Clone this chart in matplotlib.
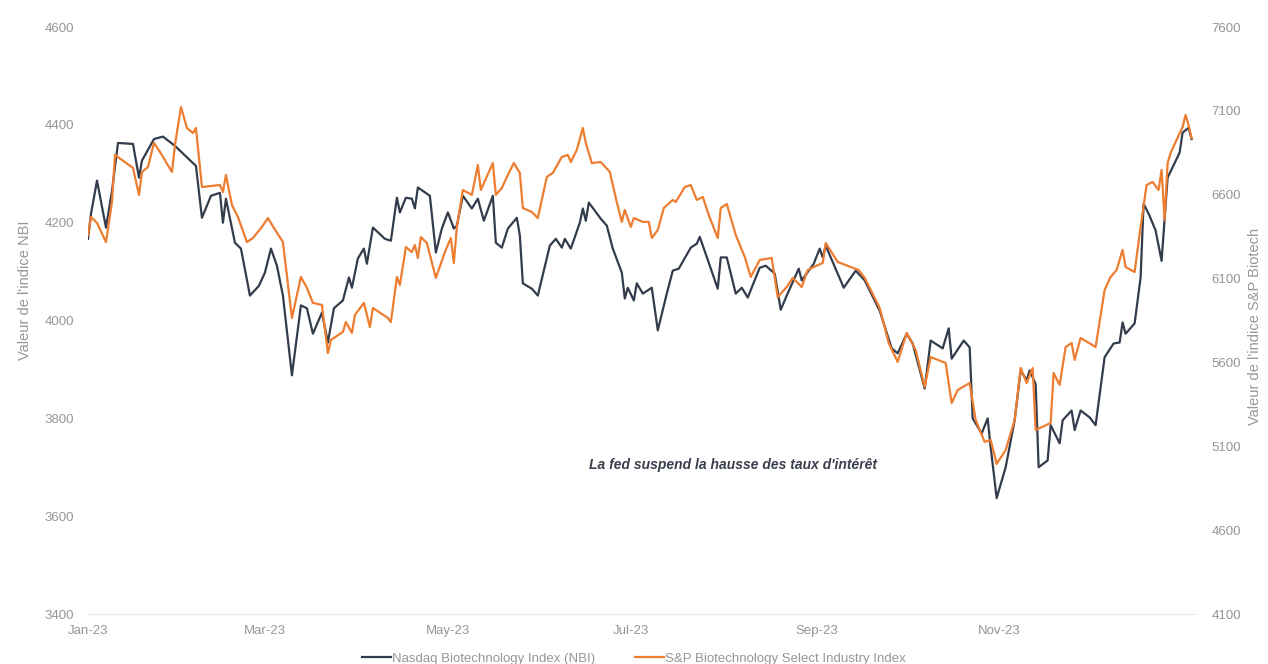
import matplotlib
matplotlib.use("Agg")
import matplotlib.pyplot as plt
import matplotlib.dates as mdates
import pandas as pd

plt.rcParams['font.family'] = ['Liberation Sans', 'DejaVu Sans']

# Nasdaq Biotechnology Index (axe gauche)
nbi_dates = ["2023-01-03", "2023-01-04", "2023-01-06", "2023-01-09", "2023-01-11", "2023-01-13",
             "2023-01-18", "2023-01-20", "2023-01-21", "2023-01-25", "2023-01-28", "2023-02-01",
             "2023-02-08", "2023-02-10", "2023-02-13", "2023-02-16", "2023-02-17", "2023-02-18",
             "2023-02-21", "2023-02-23", "2023-02-26", "2023-03-01", "2023-03-03", "2023-03-05",
             "2023-03-07", "2023-03-09", "2023-03-12", "2023-03-15", "2023-03-17", "2023-03-19",
             "2023-03-22", "2023-03-24", "2023-03-26", "2023-03-29", "2023-03-31", "2023-04-01",
             "2023-04-03", "2023-04-05", "2023-04-06", "2023-04-08", "2023-04-12", "2023-04-14",
             "2023-04-16", "2023-04-17", "2023-04-19", "2023-04-21", "2023-04-22", "2023-04-23",
             "2023-04-27", "2023-04-29", "2023-05-01", "2023-05-03", "2023-05-05", "2023-05-06",
             "2023-05-08", "2023-05-11", "2023-05-13", "2023-05-15", "2023-05-18", "2023-05-19",
             "2023-05-21", "2023-05-23", "2023-05-26", "2023-05-27", "2023-05-28", "2023-05-31",
             "2023-06-02", "2023-06-06", "2023-06-08", "2023-06-10", "2023-06-11", "2023-06-13",
             "2023-06-16", "2023-06-17", "2023-06-18", "2023-06-19", "2023-06-23", "2023-06-25",
             "2023-06-27", "2023-06-30", "2023-07-01", "2023-07-02", "2023-07-04", "2023-07-05",
             "2023-07-07", "2023-07-10", "2023-07-12", "2023-07-15", "2023-07-17", "2023-07-19",
             "2023-07-23", "2023-07-25", "2023-07-26", "2023-07-29", "2023-08-01", "2023-08-02",
             "2023-08-04", "2023-08-07", "2023-08-09", "2023-08-11", "2023-08-15", "2023-08-17",
             "2023-08-20", "2023-08-22", "2023-08-24", "2023-08-28", "2023-08-29", "2023-09-02",
             "2023-09-04", "2023-09-05", "2023-09-06", "2023-09-12", "2023-09-16", "2023-09-19",
             "2023-09-24", "2023-09-28", "2023-09-30", "2023-10-03", "2023-10-05", "2023-10-09",
             "2023-10-11", "2023-10-15", "2023-10-17", "2023-10-18", "2023-10-22", "2023-10-24",
             "2023-10-25", "2023-10-28", "2023-10-30", "2023-10-31", "2023-11-02", "2023-11-05",
             "2023-11-08", "2023-11-10", "2023-11-12", "2023-11-13", "2023-11-15", "2023-11-16",
             "2023-11-19", "2023-11-20", "2023-11-23", "2023-11-24", "2023-11-27", "2023-11-28",
             "2023-11-30", "2023-12-03", "2023-12-05", "2023-12-08", "2023-12-11", "2023-12-13",
             "2023-12-14", "2023-12-15", "2023-12-18", "2023-12-20", "2023-12-21", "2023-12-23",
             "2023-12-25", "2023-12-27", "2023-12-29", "2024-01-02", "2024-01-03", "2024-01-05",
             "2024-01-06"]
nbi_values = [4167, 4218, 4286, 4190, 4265, 4363,
              4361, 4292, 4327, 4371, 4376, 4357,
              4316, 4210, 4255, 4261, 4200, 4249,
              4159, 4147, 4051, 4071, 4098, 4147,
              4112, 4051, 3888, 4031, 4025, 3973,
              4016, 3955, 4025, 4041, 4088, 4067,
              4127, 4147, 4116, 4190, 4167, 4163,
              4251, 4221, 4251, 4249, 4229, 4272,
              4255, 4139, 4188, 4221, 4188, 4194,
              4255, 4229, 4249, 4204, 4255, 4159,
              4149, 4188, 4210, 4174, 4076, 4065,
              4051, 4153, 4167, 4149, 4167, 4147,
              4200, 4229, 4204, 4241, 4208, 4194,
              4147, 4098, 4045, 4067, 4041, 4076,
              4055, 4067, 3980, 4055, 4102, 4106,
              4149, 4157, 4171, 4118, 4065, 4129,
              4129, 4055, 4067, 4047, 4108, 4112,
              4096, 4022, 4051, 4106, 4082, 4116,
              4147, 4129, 4153, 4067, 4102, 4082,
              4020, 3943, 3933, 3973, 3953, 3861,
              3959, 3943, 3984, 3922, 3959, 3945,
              3800, 3769, 3800, 3741, 3637, 3700,
              3796, 3898, 3878, 3898, 3870, 3700,
              3714, 3786, 3749, 3796, 3816, 3776,
              3816, 3802, 3786, 3925, 3953, 3955,
              3996, 3973, 3994, 4088, 4239, 4214,
              4184, 4122, 4292, 4343, 4384, 4394,
              4371]

# S&P Biotechnology Select Industry Index (axe droit)
sp_dates = ["2023-01-03", "2023-01-04", "2023-01-06", "2023-01-09", "2023-01-11", "2023-01-12",
            "2023-01-18", "2023-01-20", "2023-01-21", "2023-01-23", "2023-01-25", "2023-01-27",
            "2023-01-31", "2023-02-01", "2023-02-03", "2023-02-05", "2023-02-07", "2023-02-08",
            "2023-02-10", "2023-02-16", "2023-02-17", "2023-02-18", "2023-02-20", "2023-02-22",
            "2023-02-25", "2023-02-27", "2023-03-02", "2023-03-04", "2023-03-06", "2023-03-09",
            "2023-03-12", "2023-03-15", "2023-03-17", "2023-03-19", "2023-03-22", "2023-03-24",
            "2023-03-25", "2023-03-29", "2023-03-30", "2023-04-01", "2023-04-02", "2023-04-05",
            "2023-04-07", "2023-04-08", "2023-04-13", "2023-04-14", "2023-04-16", "2023-04-17",
            "2023-04-19", "2023-04-21", "2023-04-22", "2023-04-23", "2023-04-24", "2023-04-26",
            "2023-04-29", "2023-05-02", "2023-05-04", "2023-05-05", "2023-05-06", "2023-05-08",
            "2023-05-11", "2023-05-13", "2023-05-14", "2023-05-18", "2023-05-19", "2023-05-21",
            "2023-05-23", "2023-05-25", "2023-05-27", "2023-05-28", "2023-05-31", "2023-06-02",
            "2023-06-05", "2023-06-07", "2023-06-10", "2023-06-12", "2023-06-13", "2023-06-15",
            "2023-06-17", "2023-06-18", "2023-06-20", "2023-06-23", "2023-06-26", "2023-06-28",
            "2023-06-30", "2023-07-01", "2023-07-03", "2023-07-04", "2023-07-07", "2023-07-09",
            "2023-07-10", "2023-07-12", "2023-07-14", "2023-07-17", "2023-07-18", "2023-07-21",
            "2023-07-23", "2023-07-25", "2023-07-27", "2023-07-29", "2023-08-01", "2023-08-02",
            "2023-08-04", "2023-08-07", "2023-08-10", "2023-08-12", "2023-08-15", "2023-08-19",
            "2023-08-21", "2023-08-24", "2023-08-26", "2023-08-29", "2023-08-31", "2023-09-02",
            "2023-09-05", "2023-09-06", "2023-09-10", "2023-09-17", "2023-09-19", "2023-09-24",
            "2023-09-27", "2023-09-30", "2023-10-03", "2023-10-06", "2023-10-09", "2023-10-11",
            "2023-10-16", "2023-10-18", "2023-10-20", "2023-10-24", "2023-10-26", "2023-10-29",
            "2023-10-31", "2023-11-02", "2023-11-05", "2023-11-08", "2023-11-10", "2023-11-12",
            "2023-11-14", "2023-11-15", "2023-11-20", "2023-11-21", "2023-11-23", "2023-11-25",
            "2023-11-27", "2023-11-28", "2023-11-30", "2023-12-05", "2023-12-08", "2023-12-10",
            "2023-12-12", "2023-12-14", "2023-12-15", "2023-12-18", "2023-12-20", "2023-12-22",
            "2023-12-24", "2023-12-26", "2023-12-27", "2023-12-28", "2023-12-29", "2023-12-30",
            "2024-01-03", "2024-01-04", "2024-01-05", "2024-01-06"]
sp_values = [6360, 6467, 6432, 6318, 6557, 6837,
             6760, 6599, 6736, 6765, 6909, 6855,
             6736, 6897, 7123, 6998, 6968, 6998,
             6646, 6658, 6616, 6718, 6539, 6467,
             6318, 6342, 6408, 6461, 6402, 6318,
             5865, 6110, 6044, 5955, 5943, 5656,
             5734, 5782, 5841, 5776, 5883, 5955,
             5811, 5925, 5865, 5841, 6110, 6062,
             6288, 6258, 6300, 6223, 6348, 6312,
             6104, 6258, 6342, 6193, 6408, 6628,
             6599, 6777, 6628, 6789, 6599, 6640,
             6718, 6789, 6730, 6521, 6497, 6461,
             6706, 6730, 6825, 6837, 6795, 6867,
             6998, 6909, 6789, 6795, 6736, 6581,
             6438, 6509, 6408, 6461, 6438, 6438,
             6342, 6390, 6521, 6569, 6557, 6646,
             6658, 6569, 6587, 6479, 6342, 6521,
             6545, 6360, 6229, 6110, 6211, 6223,
             5990, 6050, 6104, 6050, 6151, 6169,
             6193, 6312, 6199, 6151, 6104, 5925,
             5716, 5603, 5776, 5674, 5454, 5632,
             5597, 5358, 5436, 5477, 5257, 5126,
             5138, 4995, 5078, 5257, 5567, 5477,
             5567, 5197, 5239, 5537, 5466, 5692,
             5716, 5615, 5746, 5692, 6032, 6110,
             6151, 6271, 6169, 6139, 6408, 6658,
             6676, 6628, 6748, 6450, 6789, 6849,
             7004, 7076, 7016, 6938]

nbi_ticks = [3400, 3600, 3800, 4000, 4200, 4400, 4600]
sp_ticks = [4100, 4600, 5100, 5600, 6100, 6600, 7100, 7600]
month_ticks = ["2023-01-03", "2023-03-03", "2023-05-03", "2023-07-03", "2023-09-03", "2023-11-03"]

dark = "#333c4c"
orange = "#ed7d31"
grey = "#969696"

fig = plt.figure(figsize=(12.68, 6.64), dpi=100)
ax = fig.add_axes([0.0694, 0.0753, 0.8727, 0.8840])
ax2 = ax.twinx()

l1, = ax.plot(pd.to_datetime(nbi_dates), nbi_values, color=dark, lw=1.6,
              label="Nasdaq Biotechnology Index (NBI)")
l2, = ax2.plot(pd.to_datetime(sp_dates), sp_values, color=orange, lw=1.6,
               label="S&P Biotechnology Select Industry Index")

ax.set_ylim(3400, 4600)
ax2.set_ylim(4100, 7600)
ax.set_yticks(nbi_ticks)
ax2.set_yticks(sp_ticks)
ax.set_xlim(pd.Timestamp("2023-01-03"), pd.Timestamp("2024-01-07"))
ax.set_xticks(pd.to_datetime(month_ticks))
ax.xaxis.set_major_formatter(mdates.DateFormatter("%b-%y"))

for a in (ax, ax2):
    for s in a.spines.values():
        s.set_visible(False)
    a.tick_params(length=0, labelsize=9.5, colors=grey)
ax.spines["bottom"].set_visible(True)
ax.spines["bottom"].set_color("#e6e6e6")
ax.tick_params(axis="y", pad=10)
ax2.tick_params(axis="y", pad=12)
ax.tick_params(axis="x", pad=8)

ax.set_ylabel("Valeur de l'indice NBI", color=grey, fontsize=10.5)
ax.yaxis.set_label_coords(-0.051, 0.552)
ax2.set_ylabel("Valeur de l'indice S&P Biotech", color=grey, fontsize=10.5)
ax2.yaxis.set_label_coords(1.048, 0.49)

ax.text(pd.Timestamp("2023-08-06"), 3705, "La fed suspend la hausse des taux d'intérêt",
        ha="center", va="center", fontsize=10, fontweight="bold", fontstyle="italic",
        color="#3a3f4c")

fig.legend(handles=[l1, l2], loc="center", bbox_to_anchor=(0.5, 0.008), ncol=2,
           frameon=False, fontsize=9.5, labelcolor=grey, handlelength=2.2,
           handletextpad=0.1, columnspacing=3)

fig.savefig("out.png", dpi=100)
